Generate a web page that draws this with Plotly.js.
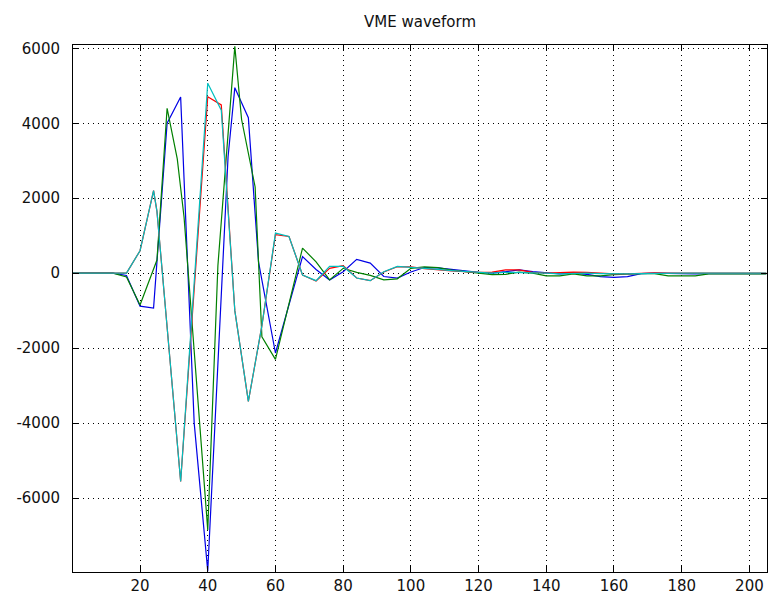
<!DOCTYPE html>
<html>
<head>
<meta charset="utf-8">
<script src="https://cdn.plot.ly/plotly-3.0.1.min.js"></script>
<style>html,body{margin:0;padding:0;background:#fff;}#chart{width:779px;height:606px;}</style>
</head>
<body>
<div id="chart"></div>
<script>
// Sample positions and amplitudes (per channel)
const xBlue  = [0,12,16,20,24,25,28,32,36,40,46,48,52,55,60,68,72,76,80,84,88,92,96,100,104,108,112,116,120,124,128,132,136,140,144,148,152,156,160,164,168,172,176,180,184,188,205];
const yBlue  = [0,0,-60,-880,-930,300,4000,4700,-4000,-7950,3100,4950,4150,300,-2130,440,100,-180,40,370,270,-90,-130,30,150,140,90,60,20,0,40,90,40,0,-20,0,-30,-90,-110,-90,-10,0,-10,-20,-20,-10,-10];

const xGreen = [0,12,16,20,25,28,31,33,40,43,48,50,54,56,60,64,68,72,76,80,84,88,92,96,100,104,108,112,116,120,124,128,132,136,140,144,148,152,156,160,164,168,172,176,180,184,188,205];
const yGreen = [0,0,-100,-850,350,4400,3050,1500,-6850,200,6050,4100,2300,-1700,-2300,-800,670,300,-180,130,20,-60,-180,-150,130,170,150,80,40,0,-40,-30,30,0,-70,-70,-20,-70,-70,-40,-20,-10,-10,-70,-70,-70,-20,-20];

const xRed   = [0,16,20,24,25,32,40,44,48,52,56,60,64,68,72,76,80,84,88,92,96,100,104,108,112,116,120,124,128,132,136,140,144,148,152,156,160,164,168,172,176,180,184,188,205];
const yRed   = [0,0,600,2200,1650,-5560,4710,4490,-1000,-3420,-1400,1030,980,-50,-210,130,200,-130,-200,30,170,170,120,80,60,40,20,30,90,90,20,0,20,30,20,-10,-20,-20,0,10,0,0,0,0,0];

const xCyan  = [0,16,20,24,25,32,40,44,48,52,56,60,64,68,72,76,80,84,88,92,96,100,104,108,112,116,120,124,128,132,136,140,144,148,152,156,160,164,168,172,176,180,184,188,205];
const yCyan  = [0,0,600,2200,1650,-5560,5070,4350,-1000,-3420,-1400,1070,980,-50,-200,180,180,-130,-200,40,180,160,130,100,70,50,30,0,20,20,10,0,-20,0,0,-10,-20,-20,-10,0,0,0,0,0,0];

const xTickVals = [20,40,60,80,100,120,140,160,180,200];
const yTickVals = [-6000,-4000,-2000,0,2000,4000,6000];

const lw = 1.2;
const traces = [
  {x:xBlue,  y:yBlue,  mode:'lines', line:{color:'#0000e6', width:lw}},
  {x:xGreen, y:yGreen, mode:'lines', line:{color:'#008000', width:lw}},
  {x:xRed,   y:yRed,   mode:'lines', line:{color:'#ff0000', width:lw}},
  {x:xCyan,  y:yCyan,  mode:'lines', line:{color:'#00bfbf', width:lw}}
];

const fontFam = '"DejaVu Sans", Verdana, sans-serif';
const axisCommon = {
  showline:true, linecolor:'#000', linewidth:1, mirror:'ticks',
  ticks:'inside', ticklen:6, tickcolor:'#000', tickwidth:1,
  showgrid:true, gridcolor:'#000', gridwidth:1, griddash:'1px,4px',
  zeroline:false, tickfont:{family:fontFam, size:15, color:'#111'}
};

const layout = {
  width:779, height:606,
  margin:{l:73, r:12, t:45, b:34},
  paper_bgcolor:'#fff', plot_bgcolor:'#fff',
  showlegend:false,
  title:{text:'VME waveform', font:{family:fontFam, size:15, color:'#111'},
         x:0.5, xref:'paper', xanchor:'center', y:1-22/606, yref:'container', yanchor:'middle'},
  xaxis:Object.assign({}, axisCommon, {range:[0.2,205.2], tickvals:xTickVals, ticktext:xTickVals.map(String), ticklabelstandoff:0}),
  yaxis:Object.assign({}, axisCommon, {range:[-7973,6088], tickvals:yTickVals, ticktext:yTickVals.map(String), ticklabelstandoff:9})
};

Plotly.newPlot('chart', traces, layout, {staticPlot:true, displayModeBar:false});
</script>
</body>
</html>
